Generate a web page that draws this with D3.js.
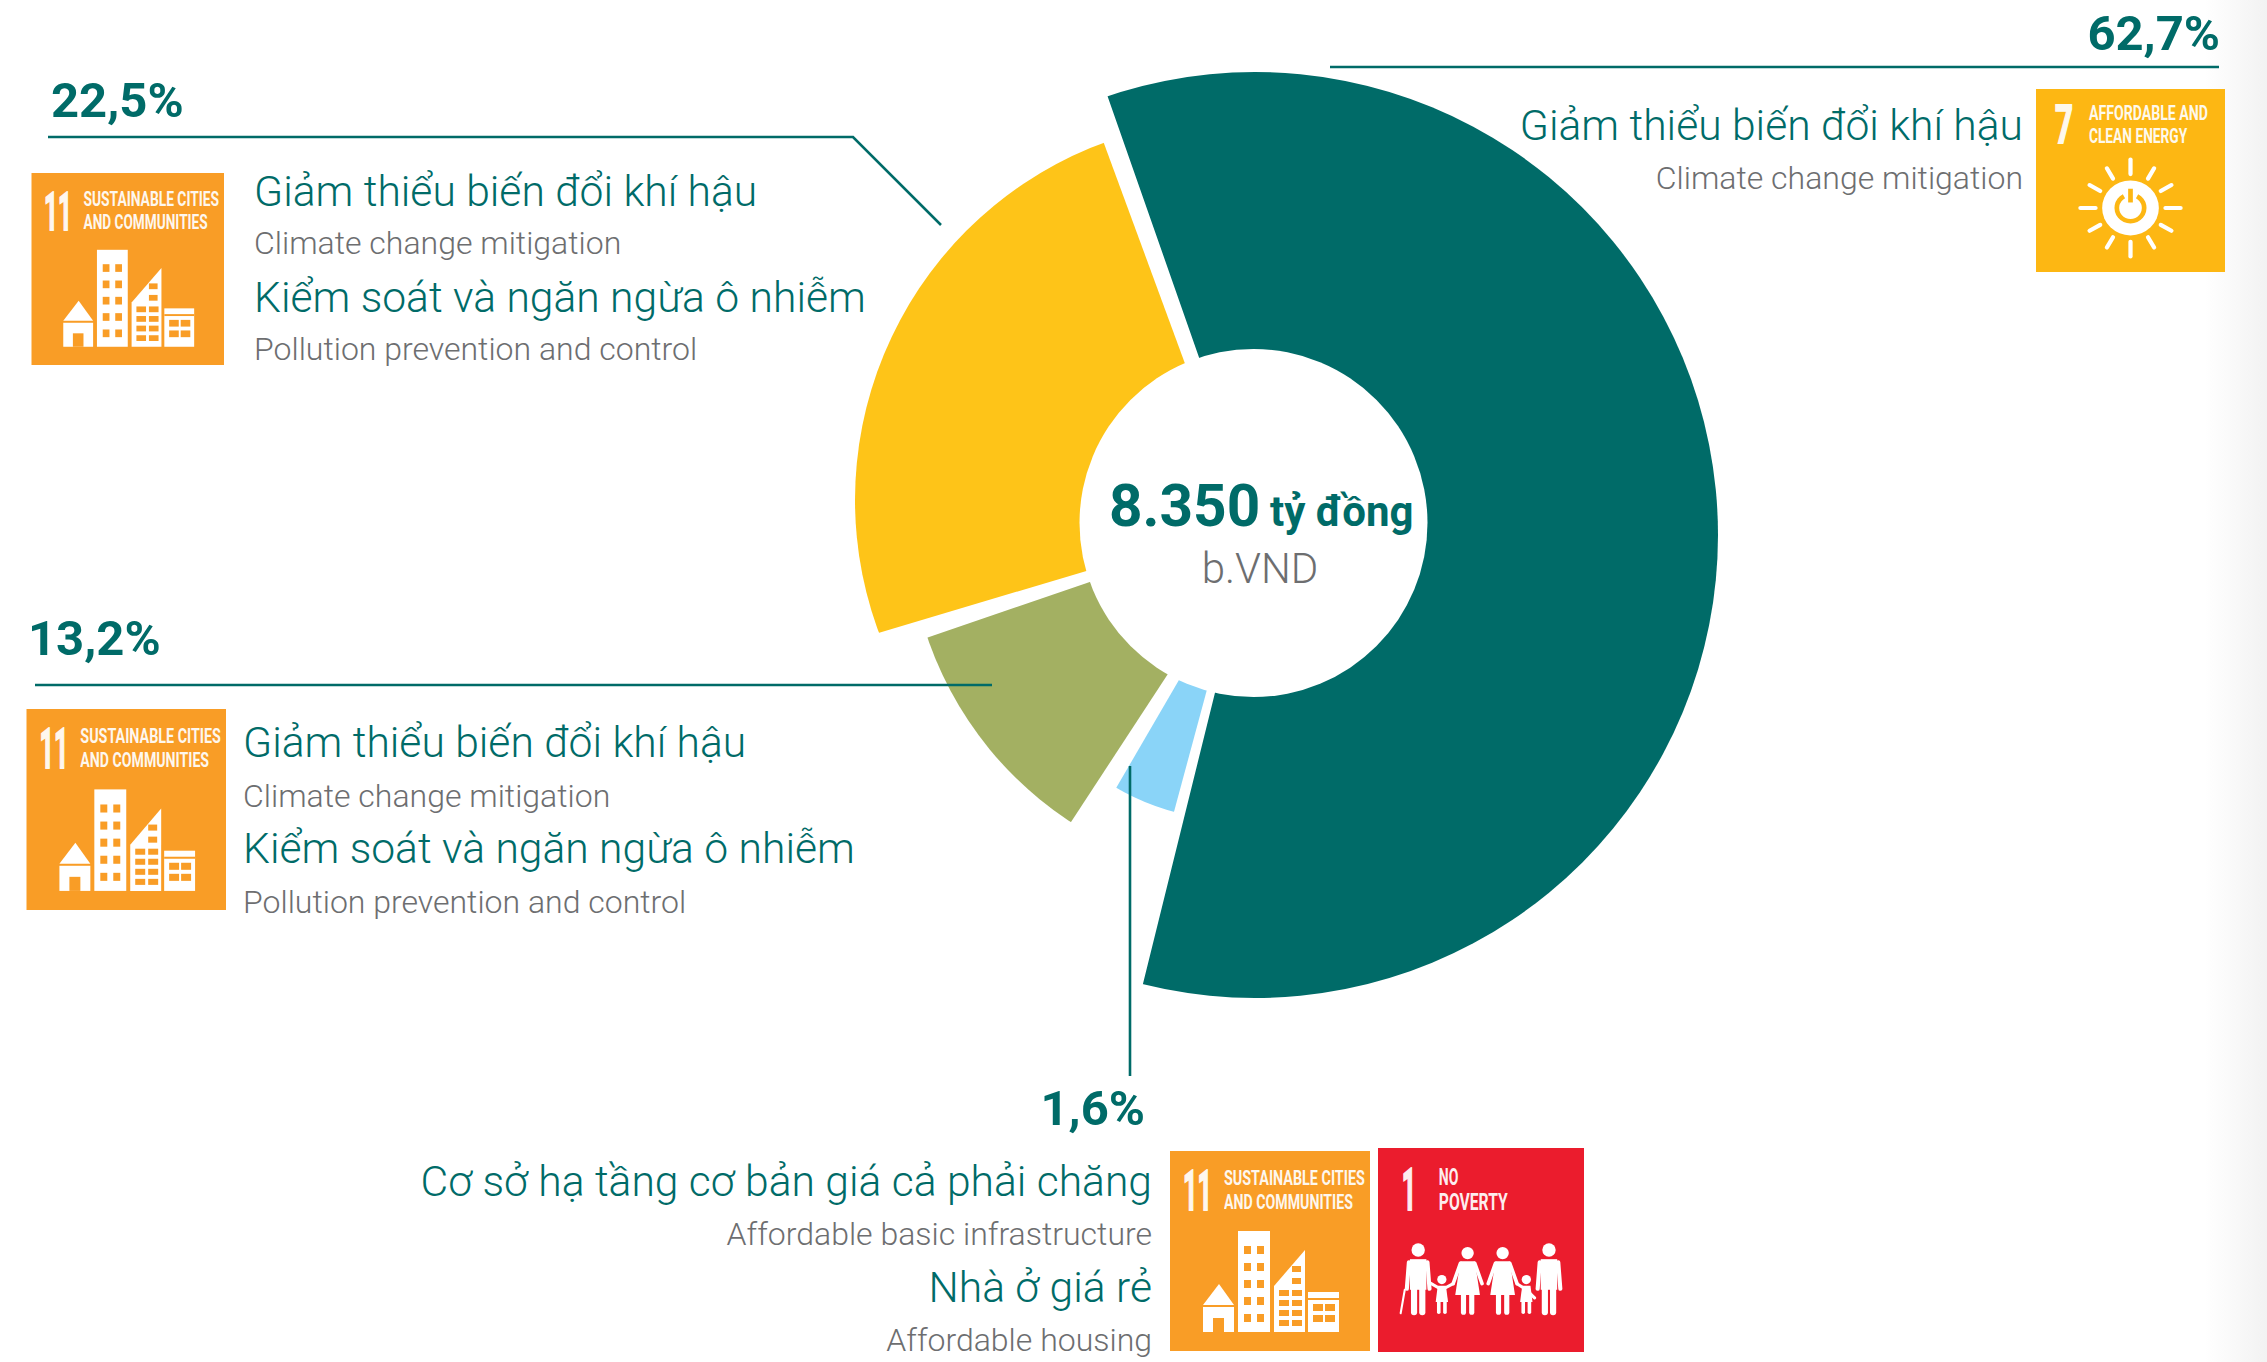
<!DOCTYPE html>
<html>
<head>
<meta charset="utf-8">
<script src="https://cdn.jsdelivr.net/npm/d3@7"></script>
<style>
  html, body { margin: 0; padding: 0; background: #fff; overflow: hidden; }
  text { font-family: Roboto, sans-serif; }
</style>
</head>
<body>
<script>
// values as printed in the source
const sliceNames = ['teal', 'yellow', 'olive', 'blue'];
const shares = [62.7, 22.5, 13.2, 1.6];
// wedge edges as drawn in the picture, degrees clockwise from 12 o'clock
const sliceStart = [-19.3, -106.6, 213.2, 195.1];
const sliceEnd = [193.9, -20.2, 251.1, 210.2];
const sliceColors = ['#006b68', '#fec418', '#a3b062', '#8ad4f8'];

const totalValue = '8.350';
const totalUnit = 'tỷ đồng';
const totalUnitEn = 'b.VND';

const climateVi = 'Giảm thiểu biến đổi khí hậu';
const climateEn = 'Climate change mitigation';
const pollutionVi = 'Kiểm soát và ngăn ngừa ô nhiễm';
const pollutionEn = 'Pollution prevention and control';
const infraVi = 'Cơ sở hạ tầng cơ bản giá cả phải chăng';
const infraEn = 'Affordable basic infrastructure';
const housingVi = 'Nhà ở giá rẻ';
const housingEn = 'Affordable housing';

const TEAL = '#006b68';
const GREY = '#6d6e70';
const fmtShare = d => d3.format('.1f')(d).replace('.', ',') + '%';

const svg = d3.select('body').append('svg')
  .attr('width', 2267).attr('height', 1362)
  .attr('xmlns', 'http://www.w3.org/2000/svg');
const defs = svg.append('defs');

// faint grey edge on the right of the page
const edge = defs.append('linearGradient').attr('id', 'pageEdge');
edge.append('stop').attr('offset', '0%').attr('stop-color', '#fff');
edge.append('stop').attr('offset', '100%').attr('stop-color', '#f2f2f2');
svg.append('rect').attr('x', 2205).attr('y', 0).attr('width', 62).attr('height', 1362)
  .style('fill', 'url(#pageEdge)');

// the wedges are not concentric in the source: each has its own apex and rim circle
const hole = { x: 1253.5, y: 523, r: 174 };
const apex = [[1257, 523], [1244, 524], [1268, 521], [1236, 582]];
const rim = [[1255, 535, 463], [1236, 500, 381], [1268, 521, 360], [1236, 582, 238]];

const angle = d3.scaleLinear().domain([0, 360]).range([0, 2 * Math.PI]);
const arc = d3.arc().innerRadius(0).outerRadius(800);

rim.forEach((c, i) => {
  defs.append('clipPath').attr('id', `rim${i}`)
    .append('circle').attr('cx', c[0]).attr('cy', c[1]).attr('r', c[2]);
});

const pie = svg.append('g').attr('id', 'pie');
pie.selectAll('g.slice').data(sliceNames).join('g')
  .attr('class', 'slice')
  .attr('clip-path', (d, i) => `url(#rim${i})`)
  .append('path')
  .attr('transform', (d, i) => `translate(${apex[i][0]},${apex[i][1]})`)
  .attr('d', (d, i) => arc({ startAngle: angle(sliceStart[i]), endAngle: angle(sliceEnd[i]) }))
  .attr('fill', (d, i) => sliceColors[i]);

pie.append('circle').attr('cx', hole.x).attr('cy', hole.y).attr('r', hole.r).attr('fill', '#fff');

// centre label
svg.append('text').attr('x', 1109).attr('y', 526).attr('fill', TEAL).attr('font-weight', 700)
  .attr('font-size', 58.5).text(totalValue);
svg.append('text').attr('x', 1270).attr('y', 526).attr('fill', TEAL).attr('font-weight', 700)
  .attr('font-size', 42).text(totalUnit);
svg.append('text').attr('x', 1260).attr('y', 583).attr('text-anchor', 'middle')
  .attr('font-size', 42).attr('font-weight', 300).attr('fill', GREY).text(totalUnitEn);

// leader lines, drawn over the wedges
const leaders = [
  [[1330, 67], [2219, 67]],
  [[48, 137], [853, 137], [941, 225]],
  [[35, 685], [992, 685]],
  [[1130, 766], [1130, 1076]]
];
const leader = d3.line();
svg.append('g').selectAll('path').data(leaders).join('path')
  .attr('d', leader).attr('fill', 'none')
  .attr('stroke', TEAL).attr('stroke-width', 2.6);

// percentage labels
const shareSpots = [
  { x: 2220, y: 50, anchor: 'end' },
  { x: 51, y: 117, anchor: 'start' },
  { x: 28, y: 655, anchor: 'start' },
  { x: 1145, y: 1125, anchor: 'end' }
];
svg.append('g').selectAll('text').data(shares).join('text')
  .attr('x', (d, i) => shareSpots[i].x)
  .attr('y', (d, i) => shareSpots[i].y)
  .attr('text-anchor', (d, i) => shareSpots[i].anchor)
  .attr('font-size', 49).attr('font-weight', 700).attr('fill', TEAL)
  .text(fmtShare);

// vi / en text rows
function rows(x, anchor, list) {
  const g = svg.append('g');
  list.forEach(r => {
    const vi = r[2] === 'vi';
    g.append('text')
      .attr('x', x).attr('y', r[0]).attr('text-anchor', anchor)
      .attr('font-size', vi ? 42.6 : 32).attr('font-weight', 300)
      .attr('fill', vi ? TEAL : GREY)
      .text(r[1]);
  });
}
rows(2023, 'end', [[140, climateVi, 'vi'], [189, climateEn, 'en']]);
rows(254, 'start', [[206, climateVi, 'vi'], [254, climateEn, 'en'], [312, pollutionVi, 'vi'], [360, pollutionEn, 'en']]);
rows(243, 'start', [[757, climateVi, 'vi'], [807, climateEn, 'en'], [863, pollutionVi, 'vi'], [913, pollutionEn, 'en']]);
rows(1152, 'end', [[1196, infraVi, 'vi'], [1245, infraEn, 'en'], [1302, housingVi, 'vi'], [1351, housingEn, 'en']]);

// SDG tiles, drawn in a 200 x 200 box and scaled into place
function tile(x, y, w, h, color) {
  const g = svg.append('g').attr('transform', `translate(${x},${y}) scale(${w / 200},${h / 200})`);
  g.append('rect').attr('width', 200).attr('height', 200).attr('fill', color);
  return g;
}
// squeeze a caption sideways until it is len wide, the tile lettering is very condensed
function caption(g, x, y, len, size, str, heavy) {
  const t = g.append('text')
    .attr('font-family', '"Liberation Sans Narrow", Roboto, sans-serif')
    .attr('font-size', size).attr('font-weight', 700).attr('fill', '#fff')
    .attr('opacity', 0.92).text(str);
  if (heavy) t.attr('stroke', '#fff').attr('stroke-width', heavy);
  const k = len / t.node().getComputedTextLength();
  t.attr('transform', `translate(${x},${y}) scale(${k},1)`);
}
function whiteRect(g, x, y, w, h, fill) {
  g.append('rect').attr('x', x).attr('y', y).attr('width', w).attr('height', h).attr('fill', fill || '#fff');
}

function sdg11(x, y, w, h) {
  const O = '#f99d26';
  const g = tile(x, y, w, h, O);
  caption(g, 13, 59, 29, 56, '11', 2);
  caption(g, 54, 34, 141, 21, 'SUSTAINABLE CITIES');
  caption(g, 54, 58, 129, 21, 'AND COMMUNITIES');
  // tower
  whiteRect(g, 68, 80, 32, 101);
  d3.range(5).forEach(r => {
    whiteRect(g, 74, 95 + r * 17, 7, 8, O);
    whiteRect(g, 87, 95 + r * 17, 7, 8, O);
  });
  // house
  g.append('path').attr('d', 'M33 154L49 133L64 154Z').attr('fill', '#fff');
  whiteRect(g, 33, 156, 31, 25);
  whiteRect(g, 43, 167, 11, 14, O);
  // slanted block
  g.append('path').attr('d', 'M104 135L135 99V181H104Z').attr('fill', '#fff');
  d3.range(4).forEach(r => {
    whiteRect(g, 109, 139 + r * 10, 10, 6, O);
    whiteRect(g, 122, 139 + r * 10, 10, 6, O);
  });
  whiteRect(g, 122, 115, 9, 6, O);
  whiteRect(g, 122, 127, 9, 6, O);
  // low block
  whiteRect(g, 138, 141, 31, 40);
  whiteRect(g, 138, 147, 31, 2, O);
  d3.range(2).forEach(r => {
    whiteRect(g, 143, 153 + r * 11, 10, 7, O);
    whiteRect(g, 155, 153 + r * 11, 10, 7, O);
  });
}

function sdg7(x, y, w, h) {
  const O = '#fdb713';
  const g = tile(x, y, w, h, O);
  caption(g, 20, 59, 19, 58, '7', 2);
  caption(g, 56, 34, 126, 23, 'AFFORDABLE AND');
  caption(g, 56, 59, 104, 23, 'CLEAN ENERGY');
  const sun = g.append('g').attr('transform', 'translate(100,130)');
  sun.selectAll('line').data(d3.range(12)).join('line')
    .attr('y1', -37).attr('y2', d => d % 3 === 0 ? -53 : -50)
    .attr('transform', d => `rotate(${d * 30})`)
    .attr('stroke', '#fff').attr('stroke-width', 4.5).attr('stroke-linecap', 'round');
  sun.append('circle').attr('r', 30).attr('fill', '#fff');
  sun.append('path').attr('d', d3.arc().innerRadius(12).outerRadius(17).startAngle(0.5).endAngle(2 * Math.PI - 0.5)())
    .attr('fill', O);
  sun.append('line').attr('y1', -21).attr('y2', -6).attr('stroke', O).attr('stroke-width', 5);
}

const stroke = (g, d, w) => g.append('path').attr('d', d).attr('fill', 'none')
  .attr('stroke', '#fff').attr('stroke-width', w)
  .attr('stroke-linecap', 'round').attr('stroke-linejoin', 'round');

function man(g, cx) {
  g.append('circle').attr('cx', cx).attr('cy', 100).attr('r', 6.5).attr('fill', '#fff');
  whiteRect(g, cx - 8, 109, 16, 30);
  stroke(g, `M${cx - 9} 112L${cx - 11} 138`, 4);
  stroke(g, `M${cx + 9} 112L${cx + 11} 138`, 4);
  stroke(g, `M${cx - 4} 136V161`, 6);
  stroke(g, `M${cx + 4} 136V161`, 6);
}
function woman(g, cx) {
  g.append('circle').attr('cx', cx).attr('cy', 103).attr('r', 6).attr('fill', '#fff');
  g.append('path').attr('d', `M${cx - 7} 111H${cx + 7}L${cx + 12} 144H${cx - 12}Z`).attr('fill', '#fff');
  stroke(g, `M${cx - 7} 113L${cx - 14} 133`, 3.5);
  stroke(g, `M${cx + 7} 113L${cx + 14} 133`, 3.5);
  stroke(g, `M${cx - 4} 144V161`, 5);
  stroke(g, `M${cx + 4} 144V161`, 5);
}
function child(g, cx) {
  g.append('circle').attr('cx', cx).attr('cy', 129).attr('r', 4.5).attr('fill', '#fff');
  g.append('path').attr('d', `M${cx - 4} 135H${cx + 4}L${cx + 6} 151H${cx - 6}Z`).attr('fill', '#fff');
  stroke(g, `M${cx - 3} 150V161`, 3.5);
  stroke(g, `M${cx + 3} 150V161`, 3.5);
}

function sdg1(x, y, w, h) {
  const g = tile(x, y, w, h, '#eb1c2d');
  caption(g, 23, 61, 14, 58, '1', 2);
  caption(g, 59, 36, 19, 23, 'NO');
  caption(g, 59, 61, 67, 23, 'POVERTY');
  man(g, 39);
  child(g, 62);
  woman(g, 87);
  woman(g, 121);
  child(g, 144);
  man(g, 166);
  // cane and the held hands
  stroke(g, 'M26 139L22 162', 2);
  stroke(g, 'M50 132L62 139L73 133', 3);
  stroke(g, 'M135 133L144 139L152 147', 3);
}

sdg7(2036, 89, 189, 183);
sdg11(31.5, 173, 192.5, 192);
sdg11(26.5, 709, 199.5, 201);
sdg11(1170, 1151, 200, 200);
sdg1(1378, 1148, 206, 204);
</script>
</body>
</html>
